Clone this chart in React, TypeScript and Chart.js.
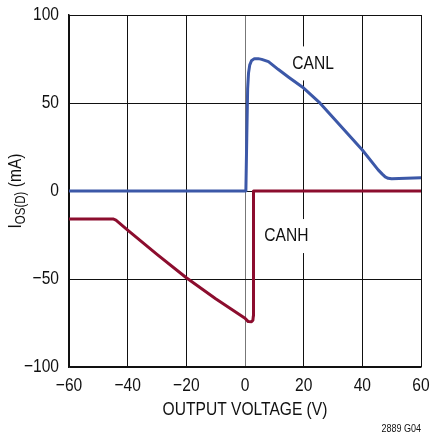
import React, { useEffect, useRef } from "react";
import { Chart, registerables } from "chart.js";

Chart.register(...registerables);

const canlV = [-60, 0.3, 0.6, 0.9, 1.2, 1.6, 2.2, 3.2, 4.5, 5.7, 8, 11.4, 15, 20, 25.6, 30, 35, 40, 45.4, 46.8, 47.8, 48.8, 50, 55, 60];
const canlI = [0, 0, 30, 58, 67, 71.5, 74, 75.2, 75.2, 74.8, 73.5, 69, 64.5, 58.5, 49.9, 41.8, 32.5, 23.3, 12, 9.6, 8, 7.2, 6.9, 7.2, 7.6];

const canhV = [-60, -45, -44, -40, -30, -20, -10, 0, 1.1, 2.2, 2.7, 2.85, 2.9, 60];
const canhI = [-15.9, -15.9, -16.6, -22.2, -36, -49.3, -61.2, -72.3, -74.2, -74.3, -73.4, -71, 0, 0];

const xTicks = [-60, -40, -20, 0, 20, 40, 60];
const yTicks = [-100, -50, 0, 50, 100];

const FONT = "'Liberation Sans', Arial, sans-serif";
const SQ = 0.82;

const minus = (v: number) => String(v).replace("-", "\u2212");

function narrow(ctx: any, t: string, x: number, y: number, align: string) {
  ctx.save();
  ctx.translate(x, y);
  ctx.scale(SQ, 1);
  ctx.textAlign = align;
  ctx.fillText(t, 0, 0);
  ctx.restore();
}

const tags: { t: string; v: number; i: number }[] = [
  { t: "CANL", v: 23.2, i: 72.5 },
  { t: "CANH", v: 14.1, i: -25.6 },
];

export default function App() {
  const ref = useRef<HTMLCanvasElement>(null);
  useEffect(() => {
    document.body.style.margin = "0";
    const labels = {
      id: "labels",
      beforeDatasetsDraw(chart: any) {
        const ctx = chart.ctx;
        const xs = chart.scales.x;
        const ys = chart.scales.y;
        ctx.save();
        ctx.font = `19px ${FONT}`;
        ctx.fillStyle = "#fff";
        tags.forEach((g) => {
          const px = xs.getPixelForValue(g.v);
          const py = ys.getPixelForValue(g.i);
          const w = ctx.measureText(g.t).width * SQ;
          ctx.fillRect(px - w / 2 - 2, py - 17, w + 4, 34);
        });
        ctx.restore();
      },
      afterDraw(chart: any) {
        const ctx = chart.ctx;
        const xs = chart.scales.x;
        const ys = chart.scales.y;
        const ca = chart.chartArea;
        ctx.save();
        ctx.fillStyle = "#111";
        ctx.textBaseline = "middle";
        ctx.font = `19px ${FONT}`;
        xTicks.forEach((v) => narrow(ctx, minus(v), xs.getPixelForValue(v), ca.bottom + 19, "center"));
        yTicks.forEach((v) => narrow(ctx, minus(v), ca.left - 10, ys.getPixelForValue(v), "right"));
        tags.forEach((g) => narrow(ctx, g.t, xs.getPixelForValue(g.v), ys.getPixelForValue(g.i), "center"));
        narrow(ctx, "OUTPUT VOLTAGE (V)", (ca.left + ca.right) / 2, 410, "center");
        ctx.restore();
        // y title with subscript
        ctx.save();
        ctx.fillStyle = "#111";
        ctx.translate(15, (ca.top + ca.bottom) / 2);
        ctx.rotate(-Math.PI / 2);
        ctx.scale(SQ, 1);
        ctx.textAlign = "left";
        ctx.textBaseline = "alphabetic";
        const big = `19px ${FONT}`;
        const small = `14px ${FONT}`;
        ctx.font = big;
        const w1 = ctx.measureText("I").width;
        ctx.font = small;
        const w2 = ctx.measureText("OS(D)").width;
        ctx.font = big;
        const w3 = ctx.measureText(" (mA)").width;
        let x0 = -(w1 + w2 + w3) / 2;
        const base = 6;
        ctx.fillText("I", x0, base);
        x0 += w1;
        ctx.font = small;
        ctx.fillText("OS(D)", x0, base + 4);
        x0 += w2;
        ctx.font = big;
        ctx.fillText(" (mA)", x0, base);
        ctx.restore();
        ctx.save();
        ctx.fillStyle = "#111";
        ctx.font = `11px ${FONT}`;
        ctx.textBaseline = "middle";
        narrow(ctx, "2889 G04", ca.right, 429, "right");
        ctx.restore();
      },
    };
    const chart = new Chart(ref.current!, {
      type: "line",
      data: {
        datasets: [
          {
            label: "CANH",
            data: canhV.map((v, i) => ({ x: v, y: canhI[i] })),
            borderColor: "#8c0d2e",
            borderWidth: 3,
            pointRadius: 0,
            tension: 0,
            borderJoinStyle: "round",
            borderCapStyle: "round",
          },
          {
            label: "CANL",
            data: canlV.map((v, i) => ({ x: v, y: canlI[i] })),
            borderColor: "#3c58a8",
            borderWidth: 3,
            pointRadius: 0,
            tension: 0,
            borderJoinStyle: "round",
            borderCapStyle: "round",
          },
        ],
      },
      options: {
        animation: false,
        responsive: false,
        devicePixelRatio: 1,
        layout: { padding: { top: 15, right: 10, left: 0, bottom: 0 } },
        plugins: { legend: { display: false }, tooltip: { enabled: false } },
        scales: {
          x: {
            type: "linear",
            min: -60,
            max: 60,
            afterBuildTicks: (s: any) => {
              s.ticks = xTicks.map((v) => ({ value: v }));
            },
            afterFit: (s: any) => {
              s.height = 69;
              s.paddingLeft = 0;
              s.paddingRight = 0;
            },
            ticks: { display: false },
            grid: {
              drawTicks: false,
              color: (c: any) => (c.tick && c.tick.value === 0 ? "#777" : "#111"),
              lineWidth: 1,
            },
            border: { color: "#111", width: 1.5 },
          },
          y: {
            type: "linear",
            min: -100,
            max: 100,
            afterBuildTicks: (s: any) => {
              s.ticks = yTicks.map((v) => ({ value: v }));
            },
            afterFit: (s: any) => {
              s.width = 69;
              s.paddingTop = 0;
              s.paddingBottom = 0;
            },
            ticks: { display: false },
            grid: { drawTicks: false, color: "#111", lineWidth: 1 },
            border: { color: "#111", width: 1.5 },
          },
        },
      },
      plugins: [labels],
    } as any);
    return () => chart.destroy();
  }, []);
  return <canvas ref={ref} width={431} height={436} style={{ display: "block" }} />;
}
